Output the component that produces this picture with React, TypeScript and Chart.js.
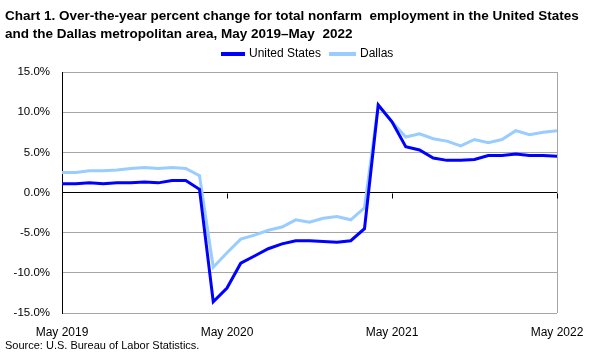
import React, { useEffect, useRef } from "react";
import { Chart, registerables } from "chart.js";

Chart.register(...registerables);

const months = [
  "May 2019", "Jun 2019", "Jul 2019", "Aug 2019", "Sep 2019", "Oct 2019", "Nov 2019", "Dec 2019",
  "Jan 2020", "Feb 2020", "Mar 2020", "Apr 2020", "May 2020", "Jun 2020", "Jul 2020", "Aug 2020",
  "Sep 2020", "Oct 2020", "Nov 2020", "Dec 2020", "Jan 2021", "Feb 2021", "Mar 2021", "Apr 2021",
  "May 2021", "Jun 2021", "Jul 2021", "Aug 2021", "Sep 2021", "Oct 2021", "Nov 2021", "Dec 2021",
  "Jan 2022", "Feb 2022", "Mar 2022", "Apr 2022", "May 2022",
];

const unitedStates = [
  1.1, 1.1, 1.2, 1.1, 1.2, 1.2, 1.3, 1.2, 1.5, 1.5, 0.4,
  -13.6,
  -11.9, -8.8, -7.9, -7.0, -6.4, -6.0, -6.0, -6.1, -6.2, -6.0, -4.5,
  10.9,
  8.8, 5.7, 5.3, 4.3, 4.0, 4.0, 4.1, 4.6, 4.6, 4.8, 4.6, 4.6, 4.5,
];

const dallas = [
  2.5, 2.5, 2.7, 2.7, 2.8, 3.0, 3.1, 3.0, 3.1, 3.0, 2.1,
  -9.3,
  -7.5, -5.8, -5.3, -4.7, -4.3, -3.4, -3.7, -3.2, -3.0, -3.4, -1.9,
  10.9,
  8.8, 6.9, 7.3, 6.7, 6.4, 5.8, 6.6, 6.2, 6.6, 7.7, 7.2, 7.5, 7.7,
];

const titleLines = [
  "Chart 1. Over-the-year percent change for total nonfarm  employment in the United States",
  "and the Dallas metropolitan area, May 2019\u2013May  2022",
];
const sourceText = "Source: U.S. Bureau of Labor Statistics.";
const seriesNames = ["United States", "Dallas"];
const seriesColors = ["#0000FF", "#99CCFF"];

const FONT = "'Liberation Sans', Arial, sans-serif";

const decorPlugin = {
  id: "decor",
  afterDraw(chart: any) {
    const ctx = chart.ctx;
    const area = chart.chartArea;
    const xs = chart.scales.x;
    const ys = chart.scales.y;
    ctx.save();
    // right border
    ctx.strokeStyle = "#A6A6A6";
    ctx.lineWidth = 1;
    ctx.beginPath();
    ctx.moveTo(Math.round(area.right) + 0.5, area.top);
    ctx.lineTo(Math.round(area.right) + 0.5, area.bottom);
    ctx.stroke();
    // x tick marks on zero line
    const y0 = Math.round(ys.getPixelForValue(0)) + 0.5;
    ctx.strokeStyle = "#000000";
    ctx.beginPath();
    for (let i = 12; i < months.length; i += 12) {
      const x = Math.round(xs.getPixelForValue(i)) + 0.5;
      ctx.moveTo(x, y0);
      ctx.lineTo(x, y0 + 5);
    }
    ctx.stroke();
    // title
    ctx.fillStyle = "#000000";
    ctx.font = "bold 13.5px " + FONT;
    ctx.textBaseline = "middle";
    ctx.textAlign = "left";
    ctx.fillText(titleLines[0], 5, 16);
    ctx.fillText(titleLines[1], 5, 34);
    // legend
    ctx.font = "12px " + FONT;
    const legendY = 54;
    const items = [
      { x: 221, w: 24, tx: 249 },
      { x: 329, w: 27, tx: 360 },
    ];
    items.forEach((it, i) => {
      ctx.strokeStyle = seriesColors[i];
      ctx.lineWidth = 4;
      ctx.beginPath();
      ctx.moveTo(it.x, legendY);
      ctx.lineTo(it.x + it.w, legendY);
      ctx.stroke();
      ctx.fillStyle = "#000000";
      ctx.fillText(seriesNames[i], it.tx, legendY);
    });
    // source
    ctx.font = "11px " + FONT;
    ctx.fillText(sourceText, 5, 346);
    ctx.restore();
  },
};

export default function App() {
  const ref = useRef<HTMLCanvasElement>(null);
  useEffect(() => {
    if (!ref.current) return;
    const chart = new Chart(ref.current, {
      type: "line",
      data: {
        labels: months,
        datasets: [
          {
            label: seriesNames[0],
            data: unitedStates,
            borderColor: seriesColors[0],
            backgroundColor: seriesColors[0],
            borderWidth: 3,
            pointRadius: 0,
            tension: 0,
          },
          {
            label: seriesNames[1],
            data: dallas,
            borderColor: seriesColors[1],
            backgroundColor: seriesColors[1],
            borderWidth: 3,
            pointRadius: 0,
            tension: 0,
          },
        ],
      },
      options: {
        responsive: false,
        animation: false,
        layout: { padding: { top: 72, right: 39, bottom: 14, left: 0 } },
        plugins: {
          legend: { display: false },
          title: { display: false },
          tooltip: { enabled: false },
        },
        scales: {
          x: {
            type: "category",
            offset: false,
            grid: { display: false, drawTicks: false },
            border: { display: false },
            ticks: {
              autoSkip: false,
              maxRotation: 0,
              padding: 12,
              color: "#000000",
              font: { family: FONT, size: 12 },
              callback: (_v: any, i: number) => (i % 12 === 0 ? months[i] : null),
            },
            afterFit: (s: any) => {
              s.height = 29;
            },
          },
          y: {
            min: -15,
            max: 15,
            ticks: {
              stepSize: 5,
              padding: 12,
              color: "#000000",
              font: { family: FONT, size: 11.5 },
              callback: (v: any) => Number(v).toFixed(1) + "%",
            },
            grid: {
              drawTicks: false,
              color: (c: any) => (c.tick && c.tick.value === 0 ? "#000000" : "#A6A6A6"),
            },
            border: { display: true, color: "#000000", width: 1 },
            afterFit: (s: any) => {
              s.width = 62;
            },
          },
        },
      },
      plugins: [decorPlugin],
    } as any);
    return () => chart.destroy();
  }, []);
  return (
    <div style={{ position: "fixed", left: 0, top: 0, width: 596, height: 356, background: "#fff" }}>
      <canvas ref={ref} width={596} height={356} />
    </div>
  );
}
